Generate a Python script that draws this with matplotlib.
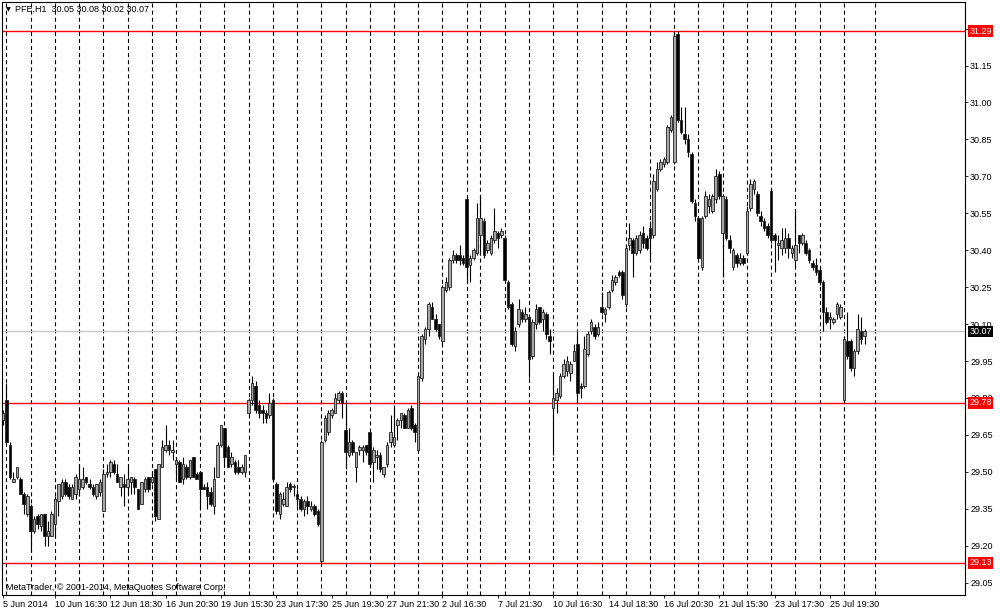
import matplotlib
matplotlib.use("Agg")
import matplotlib.pyplot as plt
import matplotlib.transforms as mtrans
from matplotlib.patches import Rectangle

plt.rcParams['font.family'] = ['Liberation Sans', 'DejaVu Sans']
plt.rcParams['lines.scale_dashes'] = False

symbol_header = "PFE,H1  30.05 30.08 30.02 30.07"
copyright_text = "MetaTrader, \u00a9 2001-2014, MetaQuotes Software Corp."

opens = [
    29.71, 29.79, 29.61, 29.46, 29.48, 29.47, 29.41, 29.33, 29.36, 29.26,
    29.32, 29.28, 29.33, 29.24, 29.24, 29.29, 29.38, 29.40, 29.46, 29.44,
    29.39, 29.41, 29.43, 29.44, 29.48, 29.45, 29.44, 29.40, 29.42, 29.34,
    29.49, 29.50, 29.53, 29.49, 29.44, 29.45, 29.44, 29.46, 29.47, 29.43,
    29.37, 29.43, 29.48, 29.46, 29.51, 29.31, 29.52, 29.59, 29.61, 29.58,
    29.53, 29.54, 29.47, 29.52, 29.48, 29.56, 29.49, 29.50, 29.44, 29.44,
    29.42, 29.36, 29.48, 29.61, 29.68, 29.60, 29.53, 29.54, 29.52, 29.50,
    29.50, 29.74, 29.79, 29.85, 29.77, 29.75, 29.74, 29.73, 29.79, 29.45,
    29.33, 29.37, 29.36, 29.45, 29.44, 29.41, 29.39, 29.35, 29.38, 29.35,
    29.36, 29.34, 29.14, 29.63, 29.66, 29.73, 29.74, 29.79, 29.82, 29.67,
    29.57, 29.62, 29.52, 29.59, 29.59, 29.61, 29.66, 29.54, 29.56, 29.57,
    29.49, 29.53, 29.62, 29.61, 29.69, 29.71, 29.73, 29.68, 29.76, 29.69,
    29.59, 29.88, 30.04, 30.08, 30.17, 30.12, 30.10, 30.03, 30.24, 30.25,
    30.36, 30.38, 30.38, 30.37, 30.61, 30.34, 30.37, 30.39, 30.46, 30.52,
    30.40, 30.39, 30.44, 30.47, 30.46, 30.45, 30.27, 30.18, 30.01, 30.10,
    30.15, 30.12, 30.13, 29.97, 30.10, 30.17, 30.12, 30.14, 30.05, 29.76,
    29.79, 29.81, 29.89, 29.91, 29.90, 29.95, 30.02, 29.85, 29.85, 29.98,
    30.07, 30.09, 30.06, 30.17, 30.14, 30.17, 30.24, 30.27, 30.31, 30.31,
    30.18, 30.42, 30.44, 30.39, 30.40, 30.47, 30.45, 30.49, 30.46, 30.65,
    30.73, 30.75, 30.76, 30.89, 30.76, 31.28, 30.93, 30.87, 30.85, 30.79,
    30.59, 30.53, 30.33, 30.54, 30.58, 30.56, 30.61, 30.71, 30.47, 30.61,
    30.44, 30.33, 30.38, 30.35, 30.37, 30.39, 30.57, 30.65, 30.63, 30.54,
    30.52, 30.50, 30.64, 30.46, 30.42, 30.41, 30.41, 30.45, 30.39, 30.36,
    30.46, 30.43, 30.43, 30.40, 30.35, 30.34, 30.32, 30.27, 30.15, 30.12,
    30.11, 30.14, 30.13, 29.79, 30.03, 30.03, 29.92, 29.99, 30.07, 30.05,
]
highs = [
    29.75, 29.86, 29.62, 29.50, 29.52, 29.48, 29.42, 29.41, 29.37, 29.32,
    29.33, 29.33, 29.33, 29.30, 29.34, 29.40, 29.45, 29.47, 29.47, 29.45,
    29.45, 29.49, 29.53, 29.52, 29.48, 29.47, 29.45, 29.45, 29.47, 29.51,
    29.53, 29.55, 29.55, 29.53, 29.48, 29.49, 29.52, 29.48, 29.48, 29.43,
    29.46, 29.48, 29.48, 29.50, 29.51, 29.53, 29.63, 29.69, 29.63, 29.63,
    29.56, 29.55, 29.56, 29.53, 29.55, 29.56, 29.50, 29.50, 29.45, 29.46,
    29.44, 29.52, 29.62, 29.69, 29.68, 29.61, 29.58, 29.55, 29.55, 29.53,
    29.57, 29.80, 29.89, 29.87, 29.79, 29.77, 29.75, 29.82, 29.80, 29.46,
    29.42, 29.42, 29.46, 29.46, 29.45, 29.43, 29.40, 29.39, 29.40, 29.38,
    29.37, 29.35, 29.63, 29.73, 29.75, 29.76, 29.82, 29.83, 29.83, 29.78,
    29.68, 29.63, 29.58, 29.61, 29.61, 29.61, 29.66, 29.60, 29.59, 29.58,
    29.52, 29.62, 29.73, 29.77, 29.72, 29.74, 29.74, 29.76, 29.77, 29.70,
    29.90, 30.06, 30.09, 30.19, 30.19, 30.14, 30.10, 30.26, 30.29, 30.37,
    30.40, 30.39, 30.42, 30.38, 30.62, 30.38, 30.41, 30.59, 30.62, 30.53,
    30.44, 30.46, 30.57, 30.48, 30.49, 30.46, 30.28, 30.19, 30.09, 30.20,
    30.16, 30.17, 30.14, 30.12, 30.18, 30.17, 30.16, 30.15, 30.08, 29.90,
    29.84, 29.90, 29.96, 29.97, 29.95, 30.02, 30.07, 29.86, 30.05, 30.07,
    30.12, 30.10, 30.11, 30.23, 30.17, 30.24, 30.30, 30.30, 30.32, 30.32,
    30.42, 30.51, 30.45, 30.46, 30.48, 30.50, 30.46, 30.52, 30.71, 30.76,
    30.77, 30.78, 30.91, 30.95, 31.29, 31.29, 30.98, 30.98, 30.87, 30.80,
    30.61, 30.54, 30.54, 30.64, 30.63, 30.63, 30.73, 30.72, 30.63, 30.62,
    30.46, 30.41, 30.39, 30.39, 30.38, 30.58, 30.69, 30.69, 30.64, 30.56,
    30.53, 30.51, 30.65, 30.47, 30.46, 30.49, 30.49, 30.47, 30.42, 30.56,
    30.46, 30.47, 30.44, 30.41, 30.36, 30.37, 30.33, 30.28, 30.17, 30.15,
    30.13, 30.19, 30.18, 30.05, 30.15, 30.04, 30.00, 30.14, 30.13, 30.08,
]
lows = [
    29.69, 29.61, 29.47, 29.46, 29.47, 29.41, 29.33, 29.32, 29.18, 29.25,
    29.27, 29.26, 29.20, 29.20, 29.24, 29.24, 29.32, 29.39, 29.40, 29.39,
    29.39, 29.39, 29.40, 29.43, 29.45, 29.43, 29.40, 29.39, 29.40, 29.34,
    29.48, 29.48, 29.49, 29.46, 29.40, 29.36, 29.41, 29.41, 29.41, 29.35,
    29.37, 29.42, 29.42, 29.45, 29.30, 29.31, 29.52, 29.58, 29.57, 29.55,
    29.47, 29.46, 29.45, 29.47, 29.47, 29.48, 29.47, 29.35, 29.43, 29.35,
    29.36, 29.33, 29.48, 29.60, 29.53, 29.52, 29.52, 29.49, 29.49, 29.49,
    29.48, 29.73, 29.77, 29.74, 29.72, 29.70, 29.70, 29.72, 29.46, 29.33,
    29.31, 29.36, 29.36, 29.42, 29.40, 29.36, 29.34, 29.32, 29.33, 29.34,
    29.32, 29.28, 29.13, 29.62, 29.65, 29.72, 29.74, 29.78, 29.72, 29.51,
    29.56, 29.57, 29.46, 29.57, 29.54, 29.57, 29.52, 29.46, 29.51, 29.50,
    29.48, 29.52, 29.60, 29.60, 29.63, 29.68, 29.68, 29.68, 29.67, 29.62,
    29.58, 29.87, 30.02, 30.05, 30.12, 30.07, 30.04, 30.02, 30.23, 30.24,
    30.35, 30.35, 30.34, 30.34, 30.28, 30.27, 30.36, 30.38, 30.38, 30.37,
    30.39, 30.38, 30.43, 30.41, 30.45, 30.27, 30.16, 30.01, 29.99, 30.09,
    30.11, 30.11, 29.88, 29.96, 30.08, 30.10, 30.07, 30.04, 29.98, 29.57,
    29.74, 29.80, 29.88, 29.89, 29.87, 29.95, 29.79, 29.80, 29.84, 29.97,
    30.06, 30.04, 30.05, 30.14, 30.11, 30.16, 30.23, 30.26, 30.29, 30.20,
    30.17, 30.40, 30.29, 30.38, 30.39, 30.41, 30.40, 30.36, 30.45, 30.64,
    30.72, 30.74, 30.75, 30.88, 30.75, 30.92, 30.87, 30.83, 30.78, 30.59,
    30.52, 30.36, 30.32, 30.53, 30.55, 30.55, 30.59, 30.61, 30.29, 30.44,
    30.39, 30.32, 30.33, 30.34, 30.34, 30.38, 30.56, 30.63, 30.54, 30.50,
    30.48, 30.45, 30.43, 30.31, 30.36, 30.38, 30.39, 30.37, 30.37, 30.33,
    30.39, 30.42, 30.38, 30.35, 30.32, 30.30, 30.26, 30.07, 30.10, 30.08,
    30.10, 30.12, 30.12, 29.78, 29.96, 29.91, 29.89, 29.98, 30.02, 30.02,
]
closes = [
    29.74, 29.62, 29.48, 29.47, 29.52, 29.41, 29.37, 29.40, 29.26, 29.31,
    29.29, 29.33, 29.24, 29.26, 29.33, 29.39, 29.45, 29.46, 29.41, 29.40,
    29.44, 29.48, 29.47, 29.47, 29.46, 29.44, 29.41, 29.45, 29.46, 29.49,
    29.50, 29.54, 29.50, 29.46, 29.48, 29.44, 29.47, 29.48, 29.44, 29.35,
    29.46, 29.47, 29.43, 29.48, 29.32, 29.53, 29.60, 29.61, 29.59, 29.59,
    29.55, 29.46, 29.53, 29.48, 29.55, 29.48, 29.47, 29.43, 29.43, 29.40,
    29.37, 29.47, 29.61, 29.69, 29.56, 29.52, 29.56, 29.50, 29.50, 29.52,
    29.57, 29.79, 29.86, 29.75, 29.74, 29.74, 29.72, 29.78, 29.47, 29.34,
    29.41, 29.39, 29.44, 29.43, 29.44, 29.39, 29.35, 29.38, 29.36, 29.36,
    29.33, 29.29, 29.62, 29.72, 29.74, 29.75, 29.80, 29.82, 29.78, 29.58,
    29.62, 29.58, 29.58, 29.60, 29.60, 29.58, 29.53, 29.59, 29.57, 29.51,
    29.52, 29.61, 29.66, 29.64, 29.71, 29.74, 29.68, 29.75, 29.68, 29.66,
    29.89, 30.05, 30.08, 30.18, 30.12, 30.08, 30.05, 30.25, 30.27, 30.36,
    30.38, 30.36, 30.36, 30.35, 30.33, 30.37, 30.40, 30.53, 30.53, 30.38,
    30.43, 30.45, 30.48, 30.45, 30.48, 30.28, 30.17, 30.02, 30.07, 30.16,
    30.12, 30.14, 29.96, 30.11, 30.16, 30.11, 30.15, 30.06, 30.03, 29.80,
    29.82, 29.89, 29.94, 29.95, 29.94, 29.99, 29.82, 29.84, 30.00, 30.06,
    30.11, 30.05, 30.09, 30.15, 30.16, 30.23, 30.28, 30.29, 30.30, 30.22,
    30.41, 30.45, 30.39, 30.45, 30.46, 30.43, 30.41, 30.45, 30.68, 30.73,
    30.76, 30.77, 30.90, 30.94, 31.27, 30.93, 30.88, 30.85, 30.80, 30.60,
    30.54, 30.37, 30.53, 30.62, 30.61, 30.62, 30.70, 30.62, 30.62, 30.45,
    30.41, 30.40, 30.35, 30.37, 30.35, 30.56, 30.67, 30.68, 30.55, 30.52,
    30.49, 30.46, 30.44, 30.44, 30.43, 30.44, 30.45, 30.41, 30.41, 30.42,
    30.43, 30.46, 30.39, 30.36, 30.33, 30.31, 30.27, 30.15, 30.11, 30.13,
    30.12, 30.18, 30.17, 30.04, 29.97, 29.92, 29.99, 30.08, 30.04, 30.07,
]

# first bar of each trading day (period separators)
day_starts = [1, 8, 15, 22, 29, 36, 43, 50, 57, 64, 71, 78, 85, 92, 99, 106,
              113, 120, 127, 134, 138, 145, 152, 159, 166, 173, 180, 187, 194,
              201, 208, 215, 222, 229, 236, 243, 252]

time_label_bars = [0, 15, 31, 47, 63, 79, 95, 111, 127, 143, 159, 175, 191,
                   207, 223, 239]
time_labels = ["5 Jun 2014", "10 Jun 16:30", "12 Jun 18:30", "16 Jun 20:30",
               "19 Jun 15:30", "23 Jun 17:30", "25 Jun 19:30", "27 Jun 21:30",
               "2 Jul 16:30", "7 Jul 21:30", "10 Jul 16:30", "14 Jul 18:30",
               "16 Jul 20:30", "21 Jul 15:30", "23 Jul 17:30", "25 Jul 19:30"]

price_ticks = [29.05, 29.20, 29.35, 29.50, 29.65, 29.80, 29.95, 30.10,
               30.25, 30.40, 30.55, 30.70, 30.85, 31.00, 31.15, 31.30]
red_levels = [31.29, 29.78, 29.13]
bid_price = 30.07

FS = 6.5

# ---------------------------------------------------------------- figure
W, H = 1000, 612
L_px, R_px, T_px, B_px = 2, 965, 2, 595
fig = plt.figure(figsize=(W / 100, H / 100), dpi=100)
fig.patch.set_facecolor('white')
ax = fig.add_axes([L_px / W, 1 - B_px / H, (R_px - L_px) / W, (B_px - T_px) / H])
ax.set_facecolor('white')
ax.set_xlim(-0.29, 278.03)
ax.set_ylim(29.00, 31.408)

# day separators
for d in day_starts:
    ax.axvline(d, color='black', lw=0.8, ls=(0, (2.9, 2.2)), zorder=1)

# horizontal levels
ax.axhline(bid_price, color='#c8c8c8', lw=1.0, zorder=1.5)
for lv in red_levels:
    ax.axhline(lv, color='#ff0000', lw=1.0, zorder=2)

# candles
N = len(opens)
xs = list(range(N))
ax.vlines(xs, lows, highs, color='black', lw=0.8, zorder=3)
bw = 0.74
for i in xs:
    o, c = opens[i], closes[i]
    bot = min(o, c)
    hgt = max(abs(c - o), 0.002)
    bull = c >= o
    ax.add_patch(Rectangle((i - bw / 2, bot), bw, hgt,
                           facecolor='#a8a8a8' if bull else 'black',
                           edgecolor='#202020', lw=0.6, zorder=4))

# axes styling
for s in ax.spines.values():
    s.set_color('black')
    s.set_linewidth(0.8)
ax.yaxis.tick_right()
ax.set_yticks(price_ticks)
ax.set_yticklabels([f"{p:.2f}" for p in price_ticks])
ax.tick_params(axis='y', length=2.2, width=0.6, pad=1.5, labelsize=FS,
               direction='out', colors='black')
ax.set_xticks(time_label_bars)
ax.set_xticklabels(time_labels)
ax.tick_params(axis='x', length=2.2, width=0.6, pad=1.5, labelsize=FS,
               direction='out', colors='black')
for lbl in ax.get_xticklabels():
    lbl.set_horizontalalignment('left')

# price tags on the right axis
trans = mtrans.blended_transform_factory(ax.transAxes, ax.transData)
for lv in red_levels:
    ax.text(1.0045, lv, f"{lv:.2f}", transform=trans, color='white',
            fontsize=FS, va='center', ha='left', clip_on=False, zorder=6,
            bbox=dict(boxstyle='square,pad=0.16', fc='#ff0000', ec='none'))
ax.text(1.0045, bid_price, f"{bid_price:.2f}", transform=trans, color='white',
        fontsize=FS, va='center', ha='left', clip_on=False, zorder=6,
        bbox=dict(boxstyle='square,pad=0.16', fc='black', ec='none'))

# header and copyright
fig.text(6 / W, 1 - 9.5 / H, "\u25bc", fontsize=4.5, family='DejaVu Sans',
         va='center', ha='left', color='black')
fig.text(15 / W, 1 - 9.5 / H, symbol_header, fontsize=FS, va='center',
         ha='left', color='black')
fig.text(6 / W, 1 - 587 / H, copyright_text, fontsize=FS, va='center',
         ha='left', color='black')

fig.savefig('out.png', dpi=100, facecolor='white')
